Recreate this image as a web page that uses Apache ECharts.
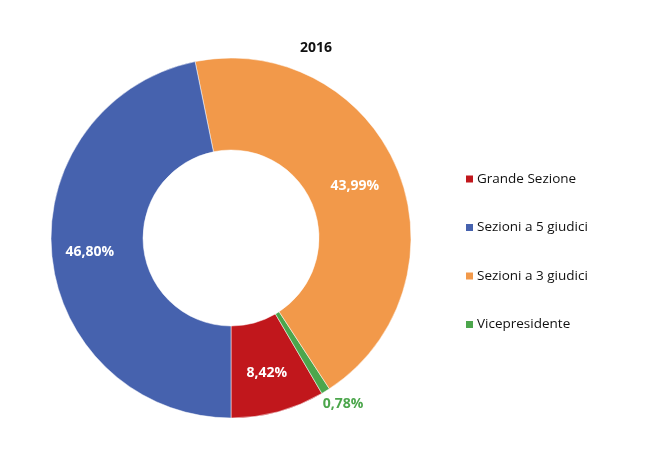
<!DOCTYPE html>
<html>
<head>
<meta charset="utf-8">
<script src="https://cdn.jsdelivr.net/npm/echarts@6/dist/echarts.min.js"></script>
<style>html,body{margin:0;padding:0;background:#fff}#c{width:666px;height:476px}</style>
</head>
<body>
<div id="c"></div>
<script>
var categories = ['Grande Sezione', 'Sezioni a 5 giudici', 'Sezioni a 3 giudici', 'Vicepresidente'];
var values = [8.42, 46.80, 43.99, 0.78];
var colors = ['#C1171C', '#4662AE', '#F2994A', '#4CA64C'];
// drawing order counter-clockwise from the bottom
var order = [0, 3, 2, 1];
var labelOffsets = [[0, 3], [-5, 0], [-3, 0], [40, 49]];

var chart = echarts.init(document.getElementById('c'));
var data = order.map(function (i) {
  var d = { name: categories[i], value: values[i], itemStyle: { color: colors[i] },
            label: { offset: labelOffsets[i] } };
  if (i === 3) {
    d.label.color = '#4CA64C';
  }
  return d;
});
chart.setOption({
  animation: false,
  title: {
    text: '2016', left: 311, top: 36, textAlign: 'center',
    textStyle: { fontFamily: 'Open Sans', fontWeight: 'bold', fontSize: 14, color: '#111' }
  },
  legend: {
    orient: 'vertical', left: 459, top: 167,
    data: categories,
    icon: 'rect', itemWidth: 9, itemHeight: 9, itemGap: 34.5,
    textStyle: { fontFamily: 'Open Sans', fontSize: 13.5, color: '#111', padding: [0, 0, 0, -2] }
  },
  series: [{
    type: 'pie',
    center: [231, 238],
    radius: [88, 180],
    startAngle: 270,
    clockwise: false,
    avoidLabelOverlap: false,
    itemStyle: { borderColor: '#fff', borderWidth: 0.5 },
    label: {
      show: true, position: 'inside',
      fontFamily: 'Open Sans', fontWeight: 'bold', fontSize: 14, color: '#fff',
      formatter: function (p) { return p.value.toFixed(2).replace('.', ',') + '%'; }
    },
    labelLine: { show: false },
    emphasis: { disabled: true },
    data: data
  }]
});
</script>
</body>
</html>
